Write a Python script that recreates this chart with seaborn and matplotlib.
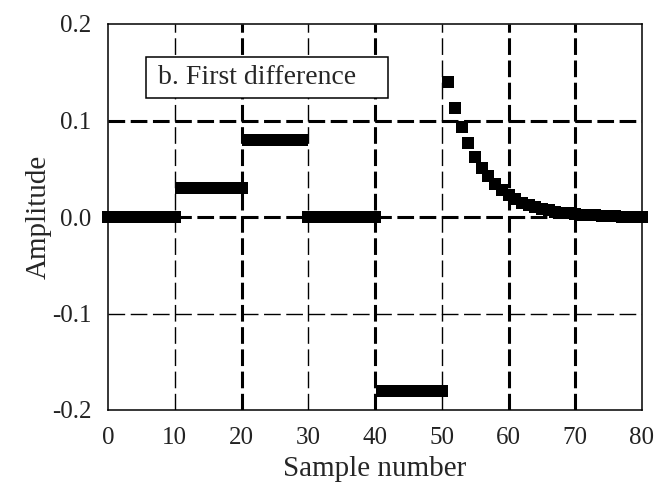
import numpy as np
import pandas as pd
import seaborn as sns
import matplotlib.pyplot as plt
from matplotlib.patches import Rectangle

# sample index and first-difference amplitude
sample = list(range(81))
amplitude = ([0.0] * 11 +                      # 0-10
             [0.03] * 10 +                     # 11-20
             [0.08] * 9 +                      # 21-29
             [0.0] * 11 +                      # 30-40
             [-0.18] * 10 +                    # 41-50
             [0.14, 0.113, 0.093, 0.077, 0.062, 0.051, 0.042, 0.034, 0.028, 0.023,
              0.019, 0.015, 0.012, 0.010, 0.008, 0.007, 0.005, 0.004, 0.004, 0.003,
              0.002, 0.002, 0.002, 0.001, 0.001, 0.001, 0.0, 0.0, 0.0, 0.0])
xticks = [0, 10, 20, 30, 40, 50, 60, 70, 80]
yticks = [-0.2, -0.1, 0.0, 0.1, 0.2]
ytick_labels = ['-0.2', '-0.1', '0.0', '0.1', '0.2']
thick_x = [20, 40, 60, 70]
thin_x = [10, 30, 50]
thick_y = [0.1, 0.0]
thin_y = [-0.1]

df = pd.DataFrame({'sample': sample, 'amplitude': amplitude})

sns.set_style('white')
plt.rcParams['font.family'] = ['Liberation Serif', 'DejaVu Serif']
plt.rcParams['lines.scale_dashes'] = False
plt.rcParams['axes.unicode_minus'] = False

fig, ax = plt.subplots(figsize=(6.69, 4.87), dpi=100)
fig.subplots_adjust(left=108/669, right=642/669, bottom=1-410/487, top=1-24/487)

dash = (0, (12, 4))
for xv in thin_x:
    ax.axvline(xv, color='black', lw=1.0, ls=dash, zorder=1)
for xv in thick_x:
    ax.axvline(xv, color='black', lw=2.2, ls=dash, zorder=1)
for yv in thin_y:
    ax.axhline(yv, color='black', lw=1.0, ls=dash, zorder=1)
for yv in thick_y:
    ax.axhline(yv, color='black', lw=2.2, ls=dash, zorder=1)

sns.scatterplot(data=df, x='sample', y='amplitude', ax=ax, marker='s', s=68,
                color='black', linewidth=0, zorder=3)
ax.collections[-1].set_clip_on(False)

ax.set_xlim(0, 80)
ax.set_ylim(-0.2, 0.2)
ax.set_xticks(xticks)
ax.set_yticks(yticks)
ax.set_yticklabels(ytick_labels)
ax.tick_params(direction='out', length=10, width=1.1, labelsize=18, pad=2,
               color='black', labelcolor='#222222')
ax.set_xlabel('Sample number', fontsize=21, labelpad=5)
ax.set_ylabel('Amplitude', fontsize=21, labelpad=0)
for sp in ax.spines.values():
    sp.set_linewidth(1.1)
    sp.set_color('black')

ax.add_patch(Rectangle((0.0706, 0.808), 0.4534, 0.1065, transform=ax.transAxes,
                       facecolor='white', edgecolor='black', lw=1.1, zorder=4))
ax.text(0.094, 0.861, 'b. First difference', transform=ax.transAxes,
        fontsize=20, va='center', ha='left', zorder=5)

plt.savefig('out.png', dpi=100)
